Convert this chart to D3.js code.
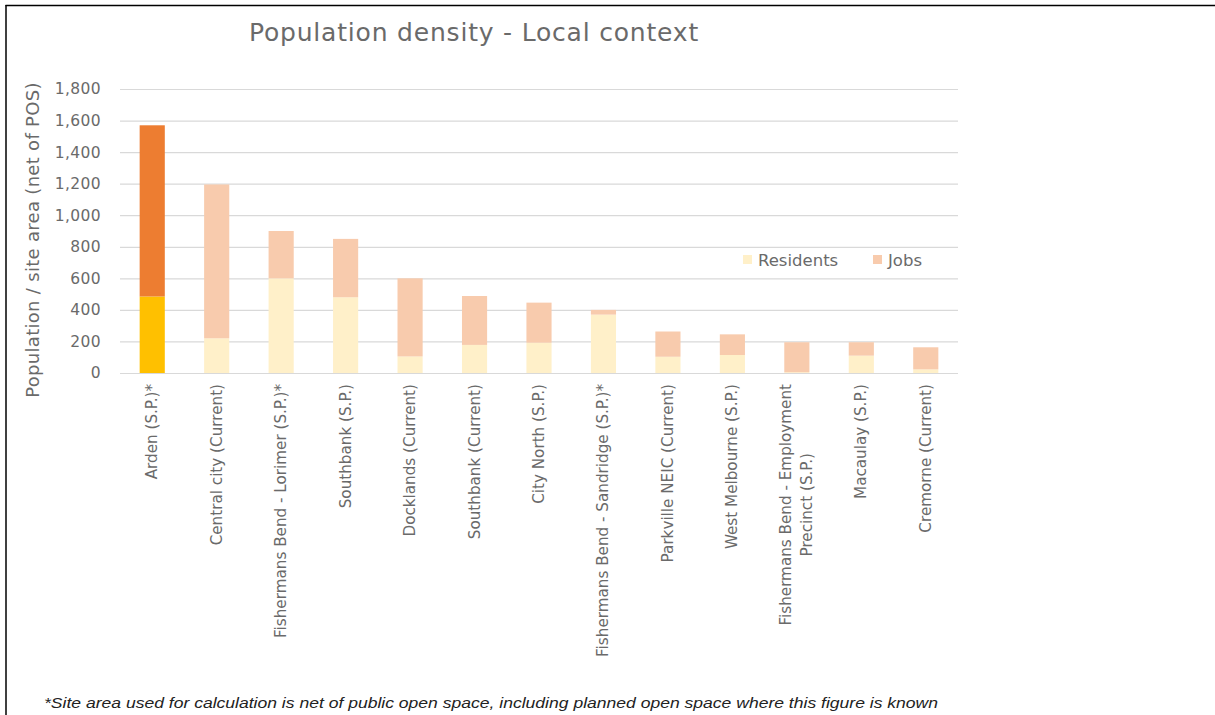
<!DOCTYPE html>
<html>
<head>
<meta charset="utf-8">
<script src="https://cdn.jsdelivr.net/npm/d3@7"></script>
<style>
  body { margin: 0; background: #fff; }
  svg { display: block; }
  text { font-family: "DejaVu Sans", "Open Sans", sans-serif; fill: #6a6a6a; }
</style>
</head>
<body>
<svg id="chart"></svg>
<script>
// chart data
const categories = [
  "Arden (S.P.)*",
  "Central city (Current)",
  "Fishermans Bend - Lorimer (S.P.)*",
  "Southbank (S.P.)",
  "Docklands (Current)",
  "Southbank (Current)",
  "City North (S.P.)",
  "Fishermans Bend - Sandridge (S.P.)*",
  "Parkville NEIC (Current)",
  "West Melbourne (S.P.)",
  "Fishermans Bend - Employment|Precinct (S.P.)",
  "Macaulay (S.P.)",
  "Cremorne (Current)"
];
const residents = [485, 220, 600, 480, 105, 178, 192, 370, 103, 114, 5, 110, 23];
const jobs = [1085, 975, 300, 370, 495, 310, 254, 30, 160, 131, 190, 85, 140];
const yTicks = [0, 200, 400, 600, 800, 1000, 1200, 1400, 1600, 1800];
const seriesNames = ["Residents", "Jobs"];

const width = 1215;
const height = 715;
const plot = { left: 120, right: 958, top: 89, bottom: 373 };

// colours: Arden highlighted, others pale
const resColor = (i) => i === 0 ? "#FFC000" : "#FFF0C9";
const jobColor = (i) => i === 0 ? "#ED7D31" : "#F8CBAD";

const svg = d3.select("#chart").attr("width", width).attr("height", height);

// frame lines (top and left only)
svg.append("line").attr("x1", 5.5).attr("x2", 1215).attr("y1", 5.5).attr("y2", 5.5)
  .attr("stroke", "#000").attr("stroke-width", 1.5);
svg.append("line").attr("x1", 6).attr("x2", 6).attr("y1", 5).attr("y2", 715)
  .attr("stroke", "#000").attr("stroke-width", 1.5);

// scales
const xScale = d3.scaleBand()
  .domain(d3.range(categories.length))
  .range([plot.left, plot.right])
  .paddingInner(0.61)
  .paddingOuter(0.305);
const yScale = d3.scaleLinear()
  .domain([0, 1800])
  .range([plot.bottom, plot.top]);

// grid lines + y labels
const yAxis = d3.axisLeft(yScale)
  .tickValues(yTicks)
  .tickSize(-(plot.right - plot.left))
  .tickPadding(19)
  .tickFormat(d3.format(","));
const gy = svg.append("g")
  .attr("transform", `translate(${plot.left},0)`)
  .call(yAxis);
gy.select(".domain").remove();
gy.selectAll(".tick line").attr("stroke", "#D9D9D9").attr("stroke-width", 1.2);
gy.selectAll(".tick text").attr("font-size", 15.5).attr("fill", "#6a6a6a")
  .attr("letter-spacing", 0.4)
  .style("font-family", "'DejaVu Sans', sans-serif");

// stacked bars
const bars = svg.append("g");
bars.selectAll(".res")
  .data(residents)
  .enter()
  .append("rect")
  .attr("class", "res")
  .attr("x", (_, i) => xScale(i))
  .attr("width", xScale.bandwidth())
  .attr("y", d => yScale(d))
  .attr("height", d => yScale(0) - yScale(d))
  .attr("fill", (_, i) => resColor(i));
bars.selectAll(".job")
  .data(jobs)
  .enter()
  .append("rect")
  .attr("class", "job")
  .attr("x", (_, i) => xScale(i))
  .attr("width", xScale.bandwidth())
  .attr("y", (d, i) => yScale(d + residents[i]))
  .attr("height", (d, i) => yScale(residents[i]) - yScale(d + residents[i]))
  .attr("fill", (_, i) => jobColor(i));

// x labels, rotated, top end aligned under axis
const labelTop = 384;
const lineGap = 21;
categories.forEach((cat, i) => {
  const lines = cat.split("|");
  const cx = xScale(i) + xScale.bandwidth() / 2;
  const t = svg.append("text")
    .attr("font-size", 15.2)
    .attr("text-anchor", "middle");
  lines.forEach((ln, j) => {
    t.append("tspan")
      .attr("x", 0)
      .attr("y", (j - (lines.length - 1) / 2) * lineGap + 5)
      .text(ln);
  });
  let w = 0;
  t.selectAll("tspan").each(function() { w = Math.max(w, this.getComputedTextLength()); });
  t.attr("transform", `translate(${cx},${labelTop + w / 2}) rotate(-90)`);
});

// title
svg.append("text")
  .attr("x", 474)
  .attr("y", 41)
  .attr("text-anchor", "middle")
  .attr("font-size", 25)
  .attr("letter-spacing", 0.8)
  .text("Population density - Local context");

// y axis title
svg.append("text")
  .attr("transform", `translate(39,240) rotate(-90)`)
  .attr("text-anchor", "middle")
  .attr("font-size", 18)
  .attr("letter-spacing", 0.3)
  .text("Population / site area (net of POS)");

// legend
const legend = [
  { name: seriesNames[0], color: "#FFF0C9", x: 743 },
  { name: seriesNames[1], color: "#F8CBAD", x: 873 }
];
legend.forEach(l => {
  svg.append("rect").attr("x", l.x).attr("y", 255).attr("width", 9).attr("height", 9).attr("fill", l.color);
  svg.append("text").attr("x", l.x + 15).attr("y", 266).attr("font-size", 16.5).text(l.name);
});

// footnote
svg.append("text")
  .attr("x", 44)
  .attr("y", 708)
  .attr("font-size", 14)
  .attr("font-style", "italic")
  .attr("textLength", 894)
  .attr("lengthAdjust", "spacingAndGlyphs")
  .style("font-family", "'Liberation Sans', Arial, sans-serif")
  .style("fill", "#222")
  .text("*Site area used for calculation is net of public open space, including planned open space where this figure is known");
</script>
</body>
</html>
